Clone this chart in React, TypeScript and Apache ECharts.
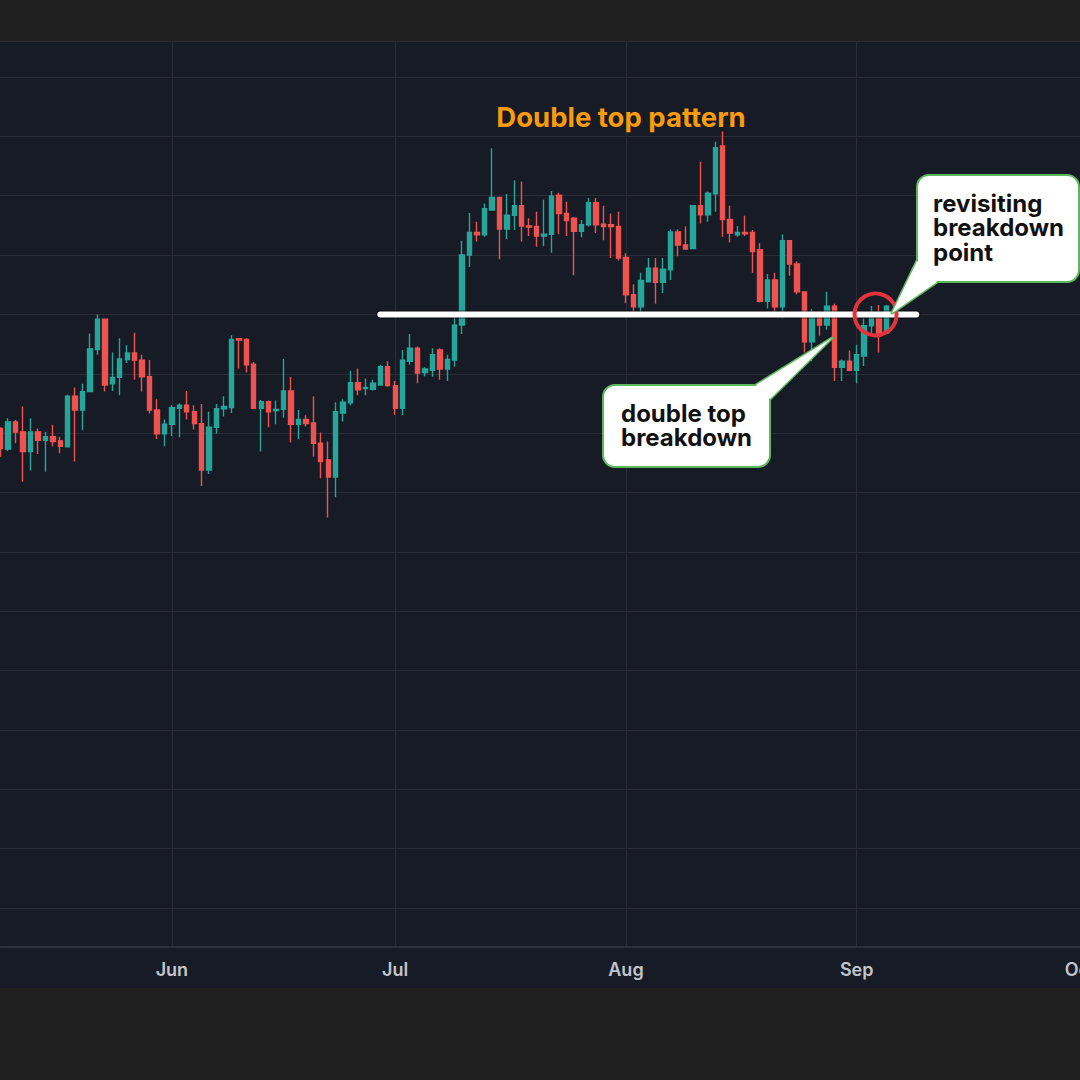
import React, { useEffect, useRef } from 'react';
import * as echarts from 'echarts';

// ---- data ----
const START_Y = 2023;
const START_M = 4; // May (0-based)
const START_D = 9;
const DAY_COUNT = 146; // May 9 .. Oct 1
const monthNames = ['Jan', 'Feb', 'Mar', 'Apr', 'May', 'Jun', 'Jul', 'Aug', 'Sep', 'Oct', 'Nov', 'Dec'];

const opens = [
  18.08, 17.73, 18.19, 18.02, 17.69, 18.02, 17.88, 17.94, 17.87, 17.77,
  18.62, 18.39, 18.70, 19.41, 19.92, 18.83, 18.94, 19.24, 19.35, 19.23,
  18.95, 18.39, 17.99, 18.15, 18.42, 18.47, 18.36, 18.16, 17.38, 18.10,
  18.41, 18.43, 19.59, 19.58, 19.16, 18.42, 18.53, 18.38, 18.40, 18.71,
  18.15, 18.23, 18.17, 17.83, 17.55, 17.26, 18.34, 18.51, 18.85, 18.75,
  18.74, 18.81, 19.12, 18.80, 18.42, 19.21, 19.43, 19.02, 19.06, 19.40,
  19.08, 19.23, 19.82, 21.00, 21.38, 21.34, 21.76, 21.97, 21.44, 21.67,
  21.83, 21.49, 21.48, 21.32, 21.35, 22.01, 21.70, 21.62, 21.40, 21.51,
  21.88, 21.52, 21.51, 21.48, 20.96, 20.33, 20.13, 20.55, 20.78, 20.54,
  20.75, 21.39, 21.17, 21.11, 21.83, 21.68, 22.03, 22.84, 21.60, 21.34,
  21.38, 21.38, 21.09, 20.22, 20.58, 20.13, 21.24, 20.85, 20.38, 19.54,
  19.95, 19.82, 20.14, 19.11, 19.21, 19.06, 19.30, 19.81, 19.93, 19.68,
];
const closes = [
  17.74, 18.19, 18.02, 17.69, 18.02, 17.88, 17.94, 17.86, 17.78, 18.62,
  18.39, 18.70, 19.42, 19.92, 18.81, 18.94, 19.25, 19.35, 19.23, 18.95,
  18.39, 17.99, 18.15, 18.43, 18.47, 18.36, 18.16, 17.38, 18.10, 18.41,
  18.45, 19.58, 19.57, 19.15, 18.42, 18.53, 18.36, 18.40, 18.71, 18.15,
  18.23, 18.16, 17.83, 17.52, 17.26, 18.36, 18.52, 18.85, 18.73, 18.77,
  18.84, 19.12, 18.80, 18.42, 19.23, 19.43, 19.01, 19.08, 19.32, 19.08,
  19.24, 19.82, 21.00, 21.38, 21.34, 21.78, 21.97, 21.44, 21.67, 21.83,
  21.49, 21.47, 21.32, 21.35, 21.99, 21.70, 21.58, 21.40, 21.51, 21.88,
  21.51, 21.48, 21.48, 20.95, 20.33, 20.13, 20.57, 20.78, 20.54, 20.76,
  21.39, 21.17, 21.10, 21.83, 21.68, 22.04, 22.81, 21.60, 21.37, 21.38,
  21.36, 21.06, 20.22, 20.58, 20.13, 21.24, 20.85, 20.38, 19.54, 19.95,
  19.82, 20.14, 19.11, 19.21, 19.06, 19.32, 19.81, 19.93, 19.68, 20.14,
];
const lows = [
  17.60, 17.70, 17.83, 17.18, 17.37, 17.65, 17.35, 17.78, 17.66, 17.77,
  17.52, 18.05, 18.70, 19.32, 18.70, 18.71, 18.64, 19.18, 18.90, 18.70,
  18.33, 17.90, 17.78, 17.95, 17.93, 18.23, 18.06, 17.11, 17.31, 17.99,
  18.28, 18.34, 19.09, 19.02, 18.42, 17.69, 18.10, 18.15, 18.26, 17.84,
  17.90, 18.11, 17.60, 17.24, 16.58, 16.92, 18.19, 18.47, 18.64, 18.64,
  18.72, 18.81, 18.78, 18.31, 18.30, 19.15, 18.84, 18.96, 18.95, 18.90,
  18.88, 19.12, 19.67, 20.80, 21.23, 21.31, 21.75, 20.93, 21.27, 21.42,
  21.23, 21.32, 21.14, 21.15, 21.04, 21.35, 21.32, 20.66, 21.30, 21.48,
  21.37, 21.25, 20.95, 20.91, 20.19, 20.03, 20.02, 20.54, 20.18, 20.36,
  20.58, 20.98, 21.10, 21.10, 21.53, 21.56, 21.73, 21.31, 21.21, 21.31,
  21.32, 20.70, 20.20, 20.10, 20.03, 19.93, 20.65, 20.34, 19.36, 19.21,
  19.64, 19.74, 18.88, 18.88, 19.05, 18.84, 19.13, 19.68, 19.36, 19.67,
];
const highs = [
  18.10, 18.25, 18.22, 18.45, 18.25, 18.08, 18.02, 18.14, 17.94, 18.65,
  18.77, 18.83, 19.68, 20.00, 19.92, 19.36, 19.60, 19.48, 19.69, 19.32,
  19.23, 18.57, 18.23, 18.47, 18.50, 18.71, 18.47, 18.49, 18.36, 18.49,
  18.62, 19.65, 19.59, 19.60, 19.20, 18.56, 18.55, 18.55, 19.25, 18.95,
  18.39, 18.30, 18.62, 18.01, 17.86, 18.52, 18.57, 19.05, 19.09, 18.92,
  18.90, 19.15, 19.21, 18.88, 19.40, 19.67, 19.46, 19.11, 19.43, 19.43,
  19.32, 20.01, 21.24, 21.71, 21.56, 21.87, 22.80, 21.98, 22.03, 22.26,
  22.24, 21.62, 21.73, 21.93, 22.08, 22.05, 21.90, 21.64, 21.59, 21.96,
  21.96, 21.83, 21.70, 21.73, 21.03, 20.51, 20.70, 20.95, 20.95, 20.95,
  21.43, 21.43, 21.48, 21.83, 22.57, 22.07, 22.91, 23.08, 21.83, 21.49,
  21.66, 21.42, 21.20, 20.68, 20.70, 21.35, 21.25, 20.89, 20.38, 20.09,
  20.05, 20.38, 20.18, 19.24, 19.39, 19.49, 19.93, 20.14, 20.16, 20.16,
];

const breakdownLevel = 20;
const lineStartDate = '2023-06-29';
const lineEndDate = '2023-09-09';
const circleDate = '2023-09-03';
const titleText = 'Double top pattern';
const calloutRevisit = 'revisiting\nbreakdown\npoint';
const calloutBreakdown = 'double top\nbreakdown';

// ---- derived ----
const categories: string[] = [];
for (let i = 0; i < DAY_COUNT; i++) {
  const d = new Date(Date.UTC(START_Y, START_M, START_D + i));
  categories.push(d.toISOString().slice(0, 10));
}
const candleData = opens.map((o, i) => [o, closes[i], lows[i], highs[i]]);
const breakdownLine = [
  [lineStartDate, breakdownLevel],
  [lineEndDate, breakdownLevel],
];

const isMonthStart = (_idx: number, val: string) => typeof val === 'string' && val.endsWith('-01');

const UP = '#26a69a';
const DOWN = '#ef5350';
const GRID = '#2a2d38';
const GREEN_BORDER = '#5cb85c';

export default function App() {
  const ref = useRef<HTMLDivElement>(null);
  useEffect(() => {
    if (!ref.current) return;
    const chart = echarts.init(ref.current, null, { renderer: 'svg' });
    const tail1 = [[917, 261], [892, 313], [937, 282]];
    const tail2 = [[756, 385], [832, 338], [770, 399]];
    chart.setOption({
      animation: false,
      backgroundColor: 'transparent',
      grid: [
        { left: 0.7, top: 41, width: 1079.3, height: 906, show: false, containLabel: false, outerBoundsMode: 'none' },
        { left: 0, top: 41, width: 1080, height: 867, show: false, containLabel: false, outerBoundsMode: 'none' },
      ],
      xAxis: [
        {
          type: 'category',
          gridIndex: 0,
          data: categories,
          boundaryGap: false,
          axisLine: { show: true, lineStyle: { color: '#363a45', width: 1.5 } },
          axisTick: { show: false },
          axisLabel: {
            interval: isMonthStart,
            formatter: (val: string) => monthNames[parseInt(val.slice(5, 7), 10) - 1],
            color: '#c3c5cc',
            fontFamily: 'Inter',
            fontWeight: 600,
            fontSize: 18,
            margin: 13,
          },
          splitLine: { show: true, interval: isMonthStart, lineStyle: { color: GRID, width: 1.2 } },
        },
        { type: 'value', gridIndex: 1, min: 0, max: 1, show: false },
      ],
      yAxis: [
        { type: 'value', gridIndex: 0, min: 9.343, max: 24.606, show: false },
        {
          type: 'value',
          gridIndex: 1,
          min: 10,
          max: 24.606,
          interval: 1,
          axisLine: { show: false },
          axisTick: { show: false },
          axisLabel: { show: false },
          splitLine: { show: true, lineStyle: { color: GRID, width: 1.2 } },
        },
      ],
      series: [
        {
          type: 'candlestick',
          xAxisIndex: 0,
          yAxisIndex: 0,
          data: candleData,
          barWidth: 4.9,
          itemStyle: {
            color: UP,
            color0: DOWN,
            borderColor: UP,
            borderColor0: DOWN,
            borderWidth: 1.4,
          },
          markPoint: {
            silent: true,
            symbol: 'circle',
            symbolSize: 42,
            symbolOffset: [4, 0],
            label: { show: false },
            itemStyle: { color: 'rgba(0,0,0,0)', borderColor: '#e3343c', borderWidth: 4 },
            data: [{ coord: [circleDate, breakdownLevel] }],
          },
        },
        {
          type: 'line',
          xAxisIndex: 0,
          yAxisIndex: 0,
          data: breakdownLine,
          symbol: 'none',
          silent: true,
          z: 3,
          lineStyle: { color: 'rgba(0,0,0,0.45)', width: 8.5, cap: 'round' },
        },
        {
          type: 'line',
          xAxisIndex: 0,
          yAxisIndex: 0,
          data: breakdownLine,
          symbol: 'none',
          silent: true,
          z: 4,
          lineStyle: { color: '#ffffff', width: 6, cap: 'round' },
        },
      ],
      graphic: [
        {
          type: 'text',
          z: 20,
          style: {
            text: titleText,
            x: 621,
            y: 117,
            align: 'center',
            verticalAlign: 'middle',
            font: 'bold 27.5px Inter',
            fill: '#f89c0e',
          },
        },
        { type: 'polygon', z: 20, shape: { points: tail1 }, style: { fill: '#ffffff', stroke: GREEN_BORDER, lineWidth: 3, lineJoin: 'round' } },
        { type: 'rect', z: 21, shape: { x: 917, y: 175, width: 162, height: 107, r: 12 }, style: { fill: '#ffffff', stroke: GREEN_BORDER, lineWidth: 2 } },
        { type: 'polygon', z: 22, shape: { points: tail1 }, style: { fill: '#ffffff' } },
        {
          type: 'text',
          z: 23,
          style: {
            text: calloutRevisit,
            x: 933,
            y: 191,
            verticalAlign: 'top',
            font: 'bold 24px Inter',
            lineHeight: 24.5,
            fill: '#111111',
          },
        },
        { type: 'polygon', z: 20, shape: { points: tail2 }, style: { fill: '#ffffff', stroke: GREEN_BORDER, lineWidth: 3, lineJoin: 'round' } },
        { type: 'rect', z: 21, shape: { x: 603, y: 385, width: 167, height: 82, r: 12 }, style: { fill: '#ffffff', stroke: GREEN_BORDER, lineWidth: 2 } },
        { type: 'polygon', z: 22, shape: { points: tail2 }, style: { fill: '#ffffff' } },
        {
          type: 'text',
          z: 23,
          style: {
            text: calloutBreakdown,
            x: 621,
            y: 401,
            verticalAlign: 'top',
            font: 'bold 24px Inter',
            lineHeight: 24.5,
            fill: '#111111',
          },
        },
      ],
    });
    return () => chart.dispose();
  }, []);

  return (
    <div style={{ position: 'fixed', left: 0, top: 0, width: 1080, height: 1080, background: '#202020' }}>
      <div style={{ position: 'absolute', left: 0, top: 41, width: 1080, height: 947, background: '#171b26' }} />
      <div ref={ref} style={{ position: 'absolute', left: 0, top: 0, width: 1080, height: 1080 }} />
    </div>
  );
}
